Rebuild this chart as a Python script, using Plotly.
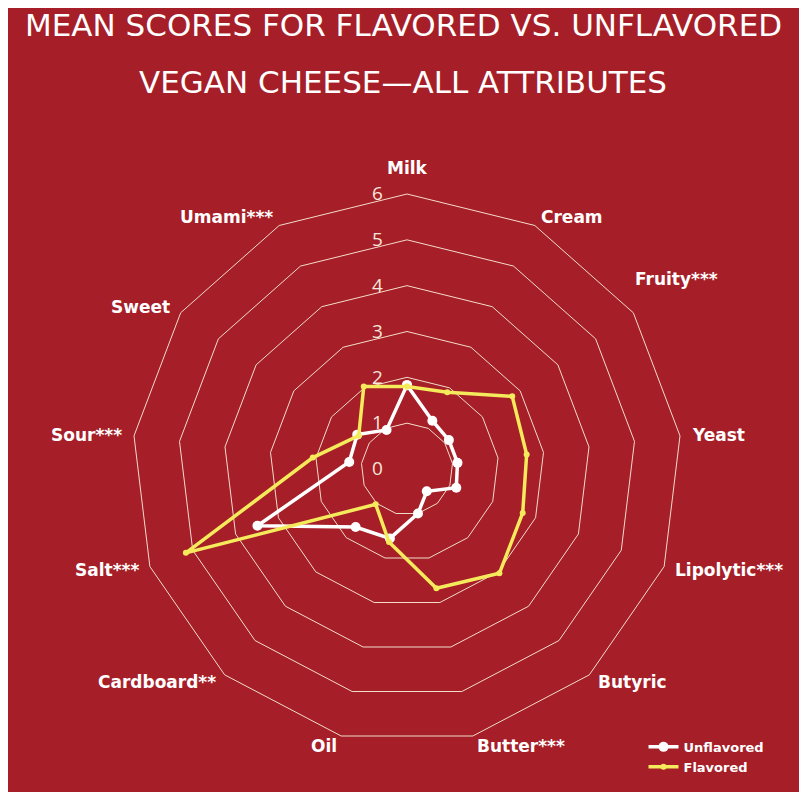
import math
import plotly.graph_objects as go

# attribute names, clockwise from the top
attributes = ["Milk", "Cream", "Fruity***", "Yeast", "Lipolytic***", "Butyric",
              "Butter***", "Oil", "Cardboard**", "Salt***", "Sour***", "Sweet", "Umami***"]

# mean scores
unflavored = [1.83, 1.19, 1.11, 1.11, 1.15, 0.65, 1.00, 1.56, 1.69, 3.49, 1.27, 1.32, 0.96]
flavored = [1.80, 1.89, 2.79, 2.63, 2.70, 3.04, 2.68, 1.64, 1.03, 5.16, 2.07, 1.28, 2.03]

radial_ticks = [0, 1, 2, 3, 4, 5, 6]

BG = "#A61E27"
GRID = "#F3DCCB"
YELLOW = "#F5EA5C"

# figure geometry (pixels) used for the polar domain and the outer labels
FIG_W, FIG_H = 807, 792
TOP, PLOT_H = 186, 550
CX, CY, R = 399, TOP + PLOT_H / 2, PLOT_H / 2

fig = go.Figure()

# close the loops
fig.add_trace(go.Scatterpolar(
    r=unflavored + unflavored[:1], theta=attributes + attributes[:1],
    name="Unflavored", mode="lines+markers",
    line=dict(color="white", width=3.5),
    marker=dict(color="white", size=10),
))
fig.add_trace(go.Scatterpolar(
    r=flavored + flavored[:1], theta=attributes + attributes[:1],
    name="Flavored", mode="lines+markers",
    line=dict(color=YELLOW, width=3.5),
    marker=dict(color=YELLOW, size=6),
))

fig.update_layout(
    width=FIG_W, height=FIG_H,
    paper_bgcolor=BG, plot_bgcolor=BG,
    margin=dict(l=0, r=0, t=TOP, b=FIG_H - TOP - PLOT_H),
    font=dict(family="DejaVu Sans", color="white"),
    polar=dict(
        bgcolor=BG,
        gridshape="linear",
        domain=dict(x=[0, 2 * CX / FIG_W], y=[0, 1]),
        radialaxis=dict(
            range=[0, 6], tickvals=radial_ticks, angle=90, tickangle=90,
            side="counterclockwise",
            showline=False, ticks="outside", ticklen=17, tickcolor="rgba(0,0,0,0)",
            gridcolor=GRID, gridwidth=1,
            tickfont=dict(family="Open Sans", size=19, color="#F6E7DC"),
        ),
        angularaxis=dict(
            rotation=90, direction="clockwise",
            showgrid=False, showline=True, linecolor=GRID, linewidth=1,
            ticks="", showticklabels=False,
        ),
    ),
    legend=dict(
        x=0.7875, y=0.022, xanchor="left", yanchor="top",
        bgcolor="rgba(0,0,0,0)",
        font=dict(family="DejaVu Sans", size=13, color="white", weight="bold"),
        itemwidth=30, tracegroupgap=2,
    ),
    showlegend=True,
)

# category labels sit just outside the outer polygon, aligned away from the centre
label_r = R + 10
label_nudge = {"Milk": (0, -16), "Fruity***": (-9, -28)}
for k, name in enumerate(attributes):
    ang = 2 * math.pi * k / len(attributes)
    px = CX + label_r * math.sin(ang)
    py = CY - label_r * math.cos(ang)
    dx, dy = label_nudge.get(name, (0, 0))
    if k == 0:
        anchor = "center"
    elif ang < math.pi:
        anchor = "left"
    else:
        anchor = "right"
    fig.add_annotation(
        text=name, xref="paper", yref="paper",
        x=(px + dx) / FIG_W, y=1 - (py + dy - TOP) / PLOT_H,
        xanchor=anchor, yanchor="middle", showarrow=False,
        font=dict(family="DejaVu Sans", size=17, color="white", weight="bold"),
    )

title_lines = ["MEAN SCORES FOR FLAVORED VS. UNFLAVORED", "VEGAN CHEESE\u2014ALL ATTRIBUTES"]
for i, line in enumerate(title_lines):
    fig.add_annotation(
        text=line, xref="paper", yref="paper", x=395 / FIG_W,
        y=1 + (TOP - 17 - 57 * i) / PLOT_H,
        yanchor="middle", xanchor="center", showarrow=False,
        font=dict(family="DejaVu Sans", size=31, color="white"),
    )

fig.write_html("out.html")
